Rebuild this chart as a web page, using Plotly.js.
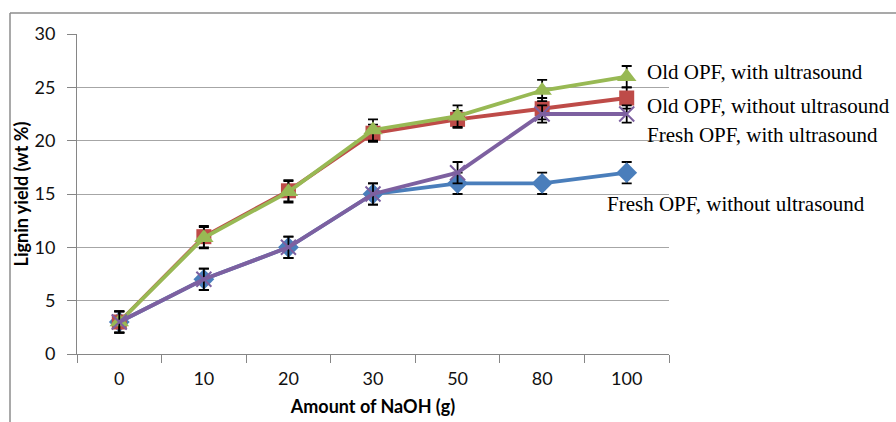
<!DOCTYPE html>
<html><head><meta charset="utf-8">
<script src="https://cdn.plot.ly/plotly-3.0.1.min.js"></script>
<style>html,body{margin:0;padding:0;background:#fff}#chart{width:896px;height:422px}</style>
</head><body><div id="chart"></div>
<script>
const categories = ["0","10","20","30","50","80","100"];
const freshNoUS = [3, 7, 10, 15, 16, 16, 17];
const oldNoUS   = [3, 11, 15.3, 20.7, 22, 23, 24];
const oldUS     = [3, 10.9, 15.2, 21, 22.3, 24.7, 26];
const freshUS   = [3, 7, 10, 15, 17, 22.5, 22.5];
const errFreshNoUS = [1, 1, 1, 1, 1, 1, 1];
const errOldNoUS   = [1, 1, 1, 0.8, 0.8, 1, 1];
const errOldUS     = [1, 1, 1, 1, 1, 1, 1];
const errFreshUS   = [1, 1, 1, 1, 1, 0.8, 0.8];
const seriesNames = ["Fresh OPF, without ultrasound","Old OPF, without ultrasound","Old OPF, with ultrasound","Fresh OPF, with ultrasound"];

const eb = arr => ({type:'data', array:arr, visible:true, color:'#000', thickness:1.8, width:5});
const traces = [
 {x:categories, y:freshNoUS, error_y:eb(errFreshNoUS), name:seriesNames[0], mode:'lines+markers',
  line:{color:'#4A7EBB', width:3.8}, marker:{symbol:'diamond', size:16, color:'#4A7EBB'}},
 {x:categories, y:oldNoUS, error_y:eb(errOldNoUS), name:seriesNames[1], mode:'lines+markers',
  line:{color:'#BE4B48', width:3.8}, marker:{symbol:'square', size:15, color:'#BE4B48'}},
 {x:categories, y:oldUS, error_y:eb(errOldUS), name:seriesNames[2], mode:'lines+markers',
  line:{color:'#98B954', width:3.8}, marker:{symbol:'triangle-up', size:17, color:'#98B954'}},
 {x:categories, y:freshUS, error_y:eb(errFreshUS), name:seriesNames[3], mode:'lines+markers',
  line:{color:'#7D60A0', width:3.8}, marker:{symbol:'x-thin', size:15, color:'#7D60A0', line:{color:'#7D60A0', width:2}}}
];

const serif = {family:'"Liberation Serif", "Times New Roman", serif', size:21, color:'#000'};
const L = 77, R = 669, T = 34, B = 354, W = 896, H = 422;
const px = v => (v - L) / (R - L);
const py = v => (B - v) / (B - T);

const layout = {
 width:W, height:H, showlegend:false,
 margin:{l:L, r:W-R, t:T, b:H-B, pad:0},
 paper_bgcolor:'#fff', plot_bgcolor:'#fff',
 font:{family:'Lato, "Open Sans", sans-serif', size:18, color:'#000'},
 xaxis:{type:'category', tickson:'boundaries', ticks:'outside', ticklen:8, tickcolor:'#868686',
   showline:true, linecolor:'#868686', linewidth:1, showgrid:false, zeroline:false,
   ticklabelstandoff:8, tickfont:{size:18, color:'#111'},
   range:[-0.5, 6.5],
   title:{text:'<b>Amount of NaOH (g)</b>', font:{size:18}, standoff:12}},
 yaxis:{range:[0,30], dtick:5, ticks:'outside', ticklen:9, tickcolor:'#868686',
   showline:true, linecolor:'#868686', linewidth:1, showgrid:true, gridcolor:'#A6A6A6', gridwidth:1,
   zeroline:false, tickfont:{size:18, color:'#111'}, ticklabelstandoff:8,
   title:{text:'<b>Lignin yield (wt %)</b>', font:{size:18}, standoff:1}},
 annotations:[
  {xref:'paper', yref:'paper', x:px(645), y:py(72), xanchor:'left', yanchor:'middle', text:seriesNames[2], showarrow:false, font:serif},
  {xref:'paper', yref:'paper', x:px(645), y:py(106), xanchor:'left', yanchor:'middle', text:seriesNames[1], showarrow:false, font:serif},
  {xref:'paper', yref:'paper', x:px(645), y:py(135), xanchor:'left', yanchor:'middle', text:seriesNames[3], showarrow:false, font:serif},
  {xref:'paper', yref:'paper', x:px(605), y:py(204), xanchor:'left', yanchor:'middle', text:seriesNames[0], showarrow:false, font:serif}
 ],
 shapes:[
  {type:'line', xref:'paper', yref:'paper', x0:px(10), x1:px(900), y0:py(13), y1:py(13), line:{color:'#8C8C8C', width:1.5}},
  {type:'line', xref:'paper', yref:'paper', x0:px(10), x1:px(10), y0:py(13), y1:py(425), line:{color:'#8C8C8C', width:1.5}}
 ]
};
Plotly.newPlot('chart', traces, layout, {displayModeBar:false, staticPlot:true});
</script></body></html>
